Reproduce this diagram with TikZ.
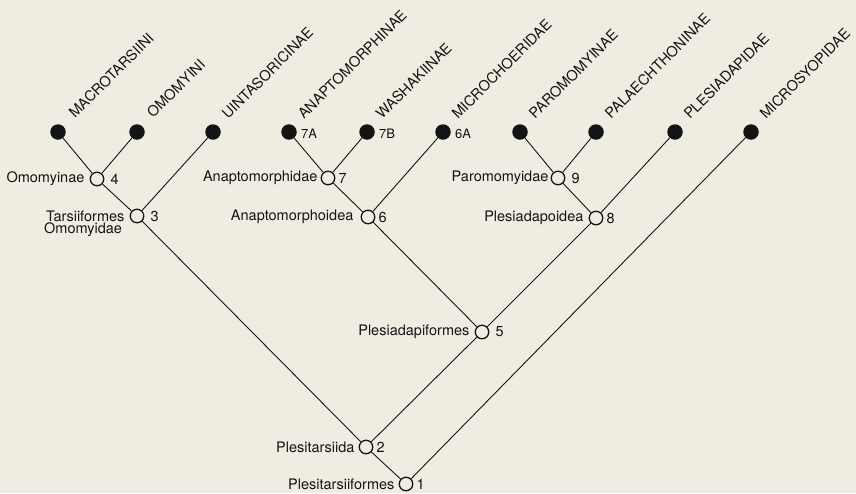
\documentclass[tikz,border=0pt]{standalone}
\usepackage{fontspec}
\setmainfont{TeX Gyre Heros}
\usetikzlibrary{calc}
\definecolor{bg}{RGB}{239,236,226}
\definecolor{ink}{RGB}{20,20,20}
\begin{document}
\begin{tikzpicture}[x=1pt,y=-1pt,
  leaf/.style={circle,fill=ink,minimum size=15.5pt,inner sep=0pt},
  inode/.style={circle,draw=ink,line width=1.3pt,fill=bg,minimum size=13.5pt,inner sep=0pt},
  edge/.style={draw=ink,line width=0.9pt},
  taxon/.style={rotate=45,anchor=base west,inner sep=0pt,font=\fontsize{14.5}{16}\selectfont,text=ink},
  clade/.style={anchor=east,inner sep=0pt,font=\fontsize{14.5}{15}\selectfont,text=ink},
  num/.style={anchor=west,inner sep=0pt,font=\fontsize{14.5}{16}\selectfont,text=ink},
  tag/.style={anchor=west,inner sep=0pt,font=\fontsize{13}{15}\selectfont,text=ink}]
\fill[bg] (0,0) rectangle (856,493);
\useasboundingbox (0,0) rectangle (856,493);
% leaves
\node[leaf] (L1) at (58,132) {};
\node[leaf] (L2) at (137,132) {};
\node[leaf] (L3) at (213,132) {};
\node[leaf] (L4) at (289,132) {};
\node[leaf] (L5) at (367,132) {};
\node[leaf] (L6) at (443,132) {};
\node[leaf] (L7) at (520,132) {};
\node[leaf] (L8) at (596,132) {};
\node[leaf] (L9) at (675,132) {};
\node[leaf] (L10) at (751,132) {};
% internal nodes
\node[inode] (n4) at (97,179) {};
\node[inode] (n3) at (137,216) {};
\node[inode] (n7) at (328,178) {};
\node[inode] (n6) at (368,217) {};
\node[inode] (n9) at (558,178) {};
\node[inode] (n8) at (596,218) {};
\node[inode] (n5) at (482,332) {};
\node[inode] (n2) at (366,447) {};
\node[inode] (n1) at (406,484) {};
% edges
\path[edge] (L1) -- (n4);
\path[edge] (L2) -- (n4);
\path[edge] (n4) -- (n3);
\path[edge] (L3) -- (n3);
\path[edge] (n3) -- (n2);
\path[edge] (L4) -- (n7);
\path[edge] (L5) -- (n7);
\path[edge] (n7) -- (n6);
\path[edge] (L6) -- (n6);
\path[edge] (n6) -- (n5);
\path[edge] (L7) -- (n9);
\path[edge] (L8) -- (n9);
\path[edge] (n9) -- (n8);
\path[edge] (L9) -- (n8);
\path[edge] (n8) -- (n5);
\path[edge] (n5) -- (n2);
\path[edge] (n2) -- (n1);
\path[edge] (L10) -- (n1);
% taxon labels
\node[taxon] (t1) at ($(L1)+(17,-13)$) {MACROTARSIINI};
\node[taxon] (t2) at ($(L2)+(16,-13)$) {OMOMYINI};
\node[taxon] (t3) at ($(L3)+(15,-12)$) {UINTASORICINAE};
\node[taxon] (t4) at ($(L4)+(15,-12)$) {ANAPTOMORPHINAE};
\node[taxon] (t5) at ($(L5)+(15,-12)$) {WASHAKIINAE};
\node[taxon] (t6) at ($(L6)+(15,-12)$) {MICROCHOERIDAE};
\node[taxon] (t7) at ($(L7)+(15,-12)$) {PAROMOMYINAE};
\node[taxon] (t8) at ($(L8)+(15,-12)$) {PALAECHTHONINAE};
\node[taxon] (t9) at ($(L9)+(15,-12)$) {PLESIADAPIDAE};
\node[taxon] (t10) at ($(L10)+(15,-12)$) {MICROSYOPIDAE};
% tags
\node[tag] (g4) at ($(L4.east)+(4,2)$) {7A};
\node[tag] (g5) at ($(L5.east)+(4,2)$) {7B};
\node[tag] (g6) at ($(L6.east)+(4,2)$) {6A};
% clade labels
\node[clade] (c4) at ($(n4.west)+(-5,0)$) {Omomyinae};
\node[clade] (c3) at ($(n3.west)+(-5,0)$) {Tarsiiformes};
\node[anchor=north west,inner sep=0pt,font=\fontsize{14.5}{15}\selectfont,text=ink] (c3b) at ($(c3.south west)+(-2,1)$) {Omomyidae};
\node[clade] (c7) at ($(n7.west)+(-3,0)$) {Anaptomorphidae};
\node[clade] (c6) at ($(n6.west)+(-7,0)$) {Anaptomorphoidea};
\node[clade] (c9) at ($(n9.west)+(-2,0)$) {Paromomyidae};
\node[clade] (c8) at ($(n8.west)+(-5,0)$) {Plesiadapoidea};
\node[clade] (c5) at ($(n5.west)+(-5,0)$) {Plesiadapiformes};
\node[clade] (c2) at ($(n2.west)+(-4,0)$) {Plesitarsiida};
\node[clade] (c1) at ($(n1.west)+(-4,0)$) {Plesitarsiiformes};
% numbers
\node[num] (d4) at ($(n4.east)+(6,0)$) {4};
\node[num] (d3) at ($(n3.east)+(6,0)$) {3};
\node[num] (d7) at ($(n7.east)+(3,0)$) {7};
\node[num] (d6) at ($(n6.east)+(3,0)$) {6};
\node[num] (d9) at ($(n9.east)+(6,0)$) {9};
\node[num] (d8) at ($(n8.east)+(3,0)$) {8};
\node[num] (d5) at ($(n5.east)+(6,0)$) {5};
\node[num] (d2) at ($(n2.east)+(3,0)$) {2};
\node[num] (d1) at ($(n1.east)+(3,0)$) {1};
\end{tikzpicture}
\end{document}
